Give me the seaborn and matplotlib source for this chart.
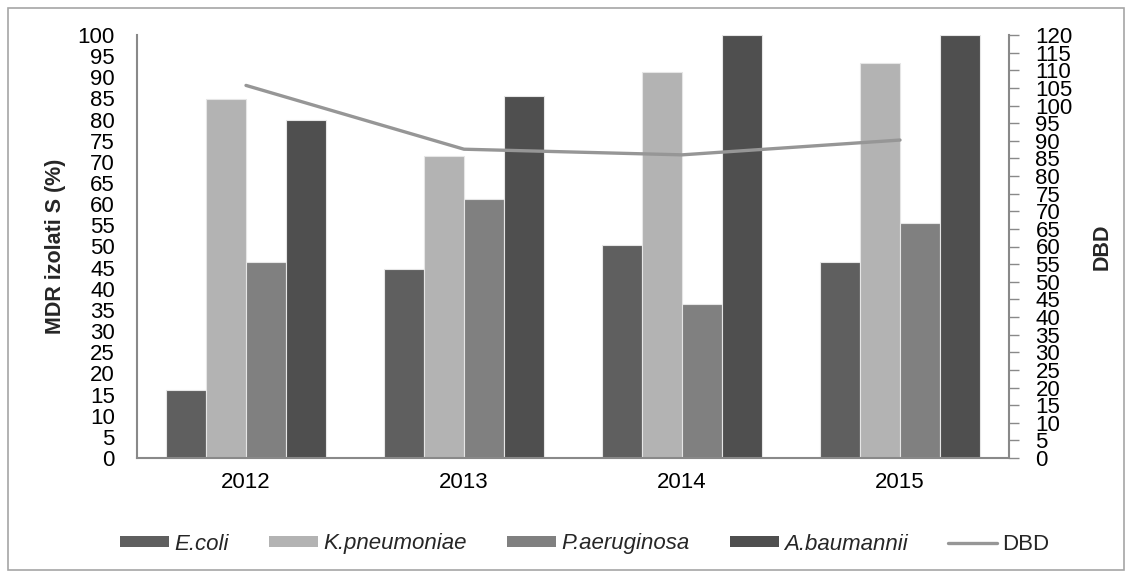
import numpy as np
import pandas as pd
import matplotlib
matplotlib.use("Agg")
import matplotlib.pyplot as plt
from matplotlib.patches import Rectangle, Patch
from matplotlib.lines import Line2D
import seaborn as sns

years = ["2012", "2013", "2014", "2015"]
species = ["E.coli", "K.pneumoniae", "P.aeruginosa", "A.baumannii"]
e_coli = [16.1, 44.6, 50.4, 46.3]
k_pneumoniae = [84.9, 71.3, 91.2, 93.3]
p_aeruginosa = [46.3, 61.3, 36.3, 55.6]
a_baumannii = [79.9, 85.6, 100.0, 100.0]
dbd = [105.7, 87.6, 86.0, 90.2]

bar_colors = ["#5f5f5f", "#b3b3b3", "#808080", "#4f4f4f"]
line_color = "#969696"
axis_color = "#898989"

sns.set_theme(style="white")
plt.rcParams["font.family"] = ["Liberation Sans", "DejaVu Sans"]

df = pd.DataFrame({
    "year": np.repeat(years, len(species)),
    "species": species * len(years),
    "value": np.column_stack([e_coli, k_pneumoniae, p_aeruginosa, a_baumannii]).ravel(),
})

W, H = 1132, 578
fig = plt.figure(figsize=(W / 100, H / 100), dpi=100)
ax = fig.add_axes([137 / W, 1 - 458 / H, (1009 - 137) / W, (458 - 35) / H])

# clustered bars per year
sns.barplot(data=df, x="year", y="value", hue="species", order=years,
            hue_order=species, palette=bar_colors, width=0.73, ax=ax,
            edgecolor="#e6e6e6", linewidth=0.8, saturation=1, legend=False)
ax.set_ylim(0, 100)
ax.set_xlim(-0.5, 3.5)
ax.set_yticks(np.arange(0, 101, 5))
ax.tick_params(axis="y", length=0, labelsize=16, pad=16, colors="black")
ax.tick_params(axis="x", length=0, labelsize=16, pad=10, colors="black")
ax.set_xlabel("")
ax.set_ylabel("MDR izolati S (%)", fontsize=15.5, fontweight="bold", labelpad=8)
for side in ["top", "right"]:
    ax.spines[side].set_visible(False)
for side in ["left", "bottom"]:
    ax.spines[side].set_color(axis_color)
    ax.spines[side].set_linewidth(1.5)

# DBD on the secondary axis
ax2 = ax.twinx()
sns.lineplot(x=np.arange(len(years)), y=dbd, ax=ax2, color=line_color,
             linewidth=2.4, legend=False)
ax2.set_ylim(0, 120)
ax2.set_xlim(-0.5, 3.5)
ax2.set_yticks(np.arange(0, 121, 5))
ax2.tick_params(axis="y", direction="out", length=7, width=1,
                labelsize=16, pad=12, labelcolor="black")
ax2.tick_params(axis="y", color=axis_color)
ax2.set_ylabel("DBD", fontsize=15.5, fontweight="bold", labelpad=14)
for side in ["top", "left", "bottom"]:
    ax2.spines[side].set_visible(False)
ax2.spines["right"].set_color(axis_color)
ax2.spines["right"].set_linewidth(1.5)

handles = [Patch(facecolor=c, edgecolor="none") for c in bar_colors]
handles.append(Line2D([0], [0], color=line_color, linewidth=2.4))
labels = species + ["DBD"]
leg = fig.legend(handles, labels, loc="center", bbox_to_anchor=(585 / W, 1 - 544 / H),
                 ncol=5, frameon=False, fontsize=16, handlelength=2.2,
                 handleheight=0.4, handletextpad=0.25, columnspacing=1.8)
for t in leg.get_texts()[:4]:
    t.set_style("italic")

fig.patches.append(Rectangle((8 / W, 8 / H), 1 - 16 / W, 1 - 16 / H,
                             transform=fig.transFigure, fill=False,
                             edgecolor="#a6a6a6", linewidth=1.2))

fig.savefig("out.png", dpi=100)
